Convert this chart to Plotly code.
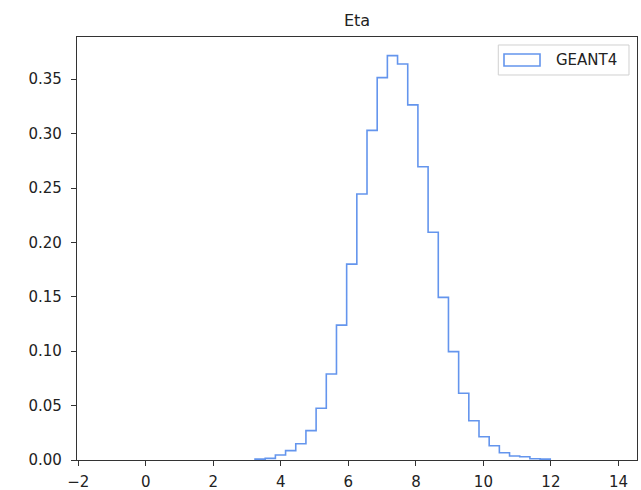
import numpy as np
import plotly.graph_objects as go

# ---- data ----
TITLE = "Eta"
SERIES_NAME = "GEANT4"
BIN_START = -1.29
BIN_WIDTH = 0.3016
# density per bin (50 bins)
DENSITY = [
    0, 0, 0, 0, 0, 0, 0, 0, 0, 0,
    0, 0, 0, 0, 0, 0.0008, 0.0015, 0.0046, 0.0086, 0.015,
    0.027, 0.0475, 0.079, 0.124, 0.180, 0.2445, 0.303, 0.3515, 0.3717, 0.364,
    0.3264, 0.2696, 0.2093, 0.1495, 0.0996, 0.0613, 0.0361, 0.0214, 0.0131, 0.0067,
    0.0037, 0.0030, 0.0012, 0.0008, 0, 0, 0, 0, 0, 0,
]
X_TICKS = [-2, 0, 2, 4, 6, 8, 10, 12, 14]
X_TICK_TEXT = ["\u22122", "0", "2", "4", "6", "8", "10", "12", "14"]
Y_TICKS = [0.0, 0.05, 0.10, 0.15, 0.20, 0.25, 0.30, 0.35]
Y_TICK_TEXT = ["0.00", "0.05", "0.10", "0.15", "0.20", "0.25", "0.30", "0.35"]

# ---- build step outline (zero bins lie under the bottom spine, so skip them) ----
n = len(DENSITY)
edges = BIN_START + BIN_WIDTH * np.arange(n + 1)
nz = [i for i, v in enumerate(DENSITY) if v > 0]
i0, i1 = nz[0], nz[-1]
vals = DENSITY[i0:i1 + 1]
xs = [edges[i0]] + list(edges[i0:i1 + 1]) + [edges[i1 + 1], edges[i1 + 1]]
ys = [0] + list(vals) + [vals[-1], 0]

LINE_COLOR = "#6495ED"
AXIS_COLOR = "#333333"
FONT = "DejaVu Sans"

fig = go.Figure()
fig.add_trace(go.Scatter(
    x=xs, y=ys, mode="lines", line=dict(color=LINE_COLOR, width=1.6, shape="hv"),
    name=SERIES_NAME, showlegend=False, hoverinfo="skip",
))

# legend drawn to look like matplotlib's (outlined patch)
shapes = [
    dict(type="rect", xref="paper", yref="paper", x0=0.7523, x1=0.9857, y0=0.9102, y1=0.9811,
         line=dict(color="#d0d0d0", width=1), fillcolor="rgba(255,255,255,0.8)", layer="above"),
    dict(type="rect", xref="paper", yref="paper", x0=0.7625, x1=0.8268, y0=0.9314, y1=0.9598,
         line=dict(color=LINE_COLOR, width=1.6), fillcolor="rgba(0,0,0,0)", layer="above"),
]
annotations = [
    dict(text=SERIES_NAME, xref="paper", yref="paper", x=0.8518, y=0.9456,
         xanchor="left", yanchor="middle", showarrow=False,
         font=dict(family=FONT, size=15, color="#222")),
]

fig.update_layout(
    width=641, height=490,
    margin=dict(l=77, r=4, t=37, b=30, pad=0, autoexpand=False),
    paper_bgcolor="white", plot_bgcolor="white",
    font=dict(family=FONT, size=15, color="#222"),
    title=dict(text=TITLE, x=0.5, xref="paper", xanchor="center",
               y=1 - 20 / 490, yref="container", yanchor="middle",
               font=dict(family=FONT, size=16, color="#222")),
    shapes=shapes, annotations=annotations,
    showlegend=False,
)
fig.update_xaxes(
    range=[-2.04, 14.55], showgrid=False, zeroline=False, automargin=False,
    showline=True, mirror=True, linecolor=AXIS_COLOR, linewidth=1.3,
    ticks="outside", ticklen=5, tickwidth=1.2, tickcolor=AXIS_COLOR,
    tickvals=X_TICKS, ticktext=X_TICK_TEXT, ticklabelstandoff=3,
)
fig.update_yaxes(
    range=[0, 0.3888], showgrid=False, zeroline=False, automargin=False,
    showline=True, mirror=True, linecolor=AXIS_COLOR, linewidth=1.3,
    ticks="outside", ticklen=5, tickwidth=1.2, tickcolor=AXIS_COLOR,
    tickvals=Y_TICKS, ticktext=Y_TICK_TEXT, ticklabelstandoff=6,
)

fig.write_html("out.html")
